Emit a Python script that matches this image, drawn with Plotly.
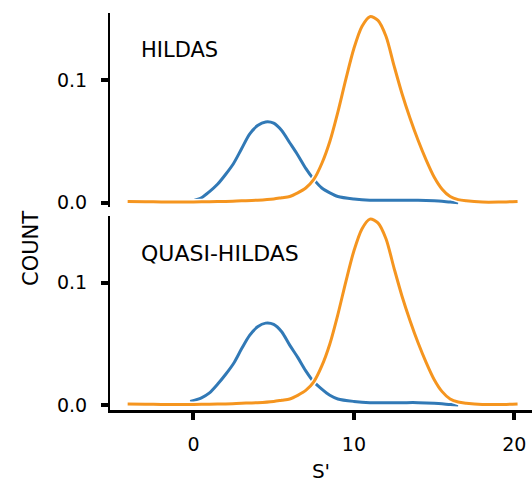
import plotly.graph_objects as go
from plotly.subplots import make_subplots

# ---- data ----
hildas_blue_x = [-0.2, 0.5, 1.0, 1.5, 2.0, 2.5, 3.0, 3.5, 4.0, 4.5, 5.0, 5.5, 6.0, 6.5, 7.0, 7.5, 8.0, 8.5, 9.0, 10, 11, 12, 13, 14, 15, 16, 16.5]
hildas_blue_y = [0.001, 0.004, 0.009, 0.015, 0.023, 0.032, 0.044, 0.056, 0.063, 0.066, 0.065, 0.059, 0.049, 0.039, 0.028, 0.019, 0.012, 0.008, 0.005, 0.003, 0.002, 0.002, 0.002, 0.002, 0.0015, 0.0005, 0.0]

hildas_orange_x = [-4.1, -3, -2, -1, 0, 1, 2, 3, 4, 5, 5.5, 6.0, 6.5, 7.0, 7.5, 8.0, 8.5, 9.0, 9.5, 10.0, 10.5, 11.0, 11.5, 12.0, 12.5, 13.0, 13.5, 14.0, 14.5, 15.0, 15.5, 16.0, 16.5, 17.0, 18, 19, 20.2]
hildas_orange_y = [0.001, 0.0008, 0.0005, 0.0005, 0.0005, 0.0008, 0.001, 0.0015, 0.002, 0.003, 0.004, 0.005, 0.008, 0.012, 0.019, 0.032, 0.050, 0.074, 0.101, 0.126, 0.144, 0.152, 0.149, 0.136, 0.112, 0.089, 0.069, 0.051, 0.035, 0.021, 0.011, 0.005, 0.0025, 0.0015, 0.0005, 0.0005, 0.001]

quasi_blue_x = [-0.2, 0.5, 1.0, 1.5, 2.0, 2.5, 3.0, 3.5, 4.0, 4.5, 5.0, 5.5, 6.0, 6.5, 7.0, 7.5, 8.0, 8.5, 9.0, 10, 11, 12, 13, 14, 15, 16, 16.5]
quasi_blue_y = [0.003, 0.006, 0.010, 0.017, 0.025, 0.034, 0.046, 0.057, 0.064, 0.067, 0.066, 0.060, 0.049, 0.039, 0.028, 0.019, 0.013, 0.008, 0.005, 0.003, 0.002, 0.002, 0.002, 0.002, 0.0015, 0.0005, 0.0]

quasi_orange_x = [-4.1, -3, -2, -1, 0, 1, 2, 3, 4, 5, 5.5, 6.0, 6.5, 7.0, 7.5, 8.0, 8.5, 9.0, 9.5, 10.0, 10.5, 11.0, 11.5, 12.0, 12.5, 13.0, 13.5, 14.0, 14.5, 15.0, 15.5, 16.0, 16.5, 17.0, 18, 19, 20.2]
quasi_orange_y = [0.001, 0.0008, 0.0005, 0.0005, 0.0005, 0.0008, 0.001, 0.0015, 0.002, 0.003, 0.004, 0.005, 0.008, 0.012, 0.019, 0.032, 0.050, 0.074, 0.101, 0.126, 0.144, 0.152, 0.149, 0.136, 0.112, 0.089, 0.069, 0.051, 0.035, 0.021, 0.011, 0.005, 0.0025, 0.0015, 0.0005, 0.0005, 0.001]

panel_titles = ["HILDAS", "QUASI-HILDAS"]
x_ticks = [0, 10, 20]
y_ticks = [0.0, 0.1]
y_ticklabels = ["0.0", "0.1"]

BLUE = "#3179b6"
ORANGE = "#f5951f"
FONT = "DejaVu Sans"

fig = make_subplots(rows=2, cols=1, shared_xaxes=True, vertical_spacing=0.023)

panels = [
    (hildas_blue_x, hildas_blue_y, hildas_orange_x, hildas_orange_y),
    (quasi_blue_x, quasi_blue_y, quasi_orange_x, quasi_orange_y),
]
for i, (bx, by, ox, oy) in enumerate(panels, start=1):
    for xs, ys, col in ((bx, by, BLUE), (ox, oy, ORANGE)):
        fig.add_trace(go.Scatter(x=xs, y=ys, mode="lines",
                                 line=dict(color="white", width=6, shape="spline", smoothing=0.8),
                                 hoverinfo="skip", showlegend=False), row=i, col=1)
        fig.add_trace(go.Scatter(x=xs, y=ys, mode="lines",
                                 line=dict(color=col, width=3, shape="spline", smoothing=0.8),
                                 showlegend=False), row=i, col=1)

tick_font = dict(family=FONT, size=19, color="black")
axis_common = dict(showgrid=False, zeroline=False, showline=True, linecolor="black",
                   linewidth=2, ticks="outside", tickcolor="black", tickwidth=3.5, ticklen=7)

fig.update_xaxes(range=[-5.2, 21.1], tickvals=x_ticks, ticktext=[str(v) for v in x_ticks],
                 ticklabelstandoff=8, tickfont=tick_font, **axis_common)
fig.update_xaxes(showline=False, ticks="", showticklabels=False, row=1, col=1)
fig.update_xaxes(title=dict(text="S'", font=dict(family=FONT, size=20, color="black"), standoff=11),
                 linewidth=2.5, row=2, col=1)

fig.update_yaxes(tickvals=y_ticks, ticktext=y_ticklabels, ticklabelstandoff=10,
                 tickfont=tick_font, **axis_common)
fig.update_yaxes(range=[-0.0035, 0.155], row=1, col=1)
fig.update_yaxes(range=[-0.004, 0.1545], row=2, col=1)

fig.add_annotation(text=panel_titles[0], x=-3.4, y=0.125, xref="x", yref="y",
                   xanchor="left", showarrow=False, font=dict(family=FONT, size=21, color="black"))
fig.add_annotation(text=panel_titles[1], x=-3.4, y=0.124, xref="x2", yref="y2",
                   xanchor="left", showarrow=False, font=dict(family=FONT, size=22, color="black"))
fig.add_annotation(text="COUNT", x=(31 - 110) / 422, y=(410 - 249) / 397, xref="paper", yref="paper",
                   xanchor="center", yanchor="middle",
                   showarrow=False, textangle=-90, font=dict(family=FONT, size=21, color="black"))

fig.update_layout(width=532, height=487, margin=dict(l=110, r=0, t=13, b=77),
                  plot_bgcolor="white", paper_bgcolor="white")

fig.write_html("out.html", config={"displayModeBar": False},
               post_script="document.body.style.margin='0';")
